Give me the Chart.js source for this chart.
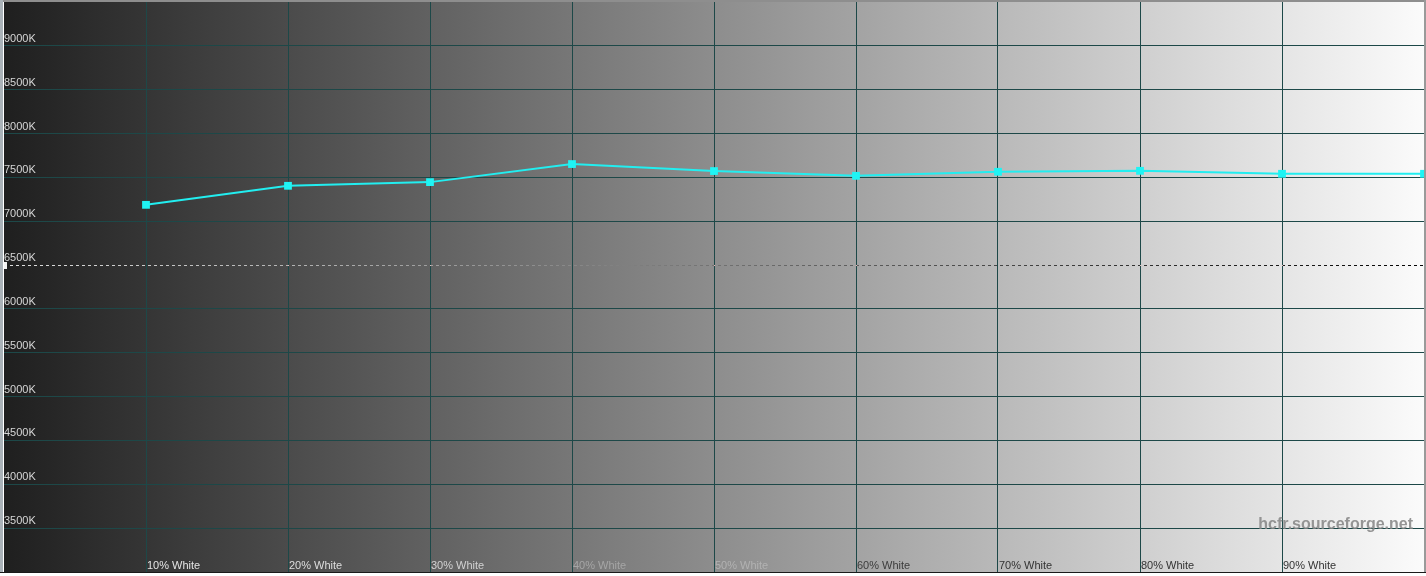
<!DOCTYPE html>
<html>
<head>
<meta charset="utf-8">
<title>Color temperature</title>
<script src="https://cdn.jsdelivr.net/npm/chart.js@4"></script>
<style>
  html, body { margin: 0; padding: 0; background: #ffffff; overflow: hidden; }
  #wrap { width: 1426px; height: 576px; position: relative; }
</style>
</head>
<body>
<div id="wrap"><canvas id="tempChart" width="1426" height="576"></canvas></div>
<script>
// grey levels (% white) and measured colour temperature (K)
const levels = [10, 20, 30, 40, 50, 60, 70, 80, 90, 100];
const tempValues = [7187, 7404, 7446, 7652, 7572, 7518, 7564, 7575, 7541, 7541];
const xTickLabels = ['10% White', '20% White', '30% White', '40% White', '50% White',
                     '60% White', '70% White', '80% White', '90% White'];
const referenceTemp = 6500;
const yMin = 3000, yMax = 9500, yStep = 500;

const xLabelColors = ['#e4e4e4', '#dedede', '#d2d2d2', '#a6a6a6', '#b2b2b2',
                      '#3c3c3c', '#333333', '#333333', '#333333'];
const gridColor = '#1d4848';

function noPadding(scale) {
  scale.paddingTop = 0;
  scale.paddingBottom = 0;
  scale.paddingLeft = 0;
  scale.paddingRight = 0;
}

const backgroundPlugin = {
  id: 'background',
  beforeDraw: function(chart) {
    const c = chart.ctx;
    const area = chart.chartArea;
    c.save();
    c.fillStyle = '#ffffff';
    c.fillRect(0, 0, chart.width, chart.height);
    c.fillStyle = '#8e8e8e';
    c.fillRect(0, 0, chart.width, 2);
    c.fillStyle = '#aab2b8';
    c.fillRect(0, 0, 3, area.bottom);
    c.fillStyle = '#9a9a9a';
    c.fillRect(area.right, 0, chart.width - area.right, area.bottom);
    let grad = c.createLinearGradient(area.left, 0, area.right, 0);
    grad.addColorStop(0, '#1f1f1f');
    grad.addColorStop(1, '#fbfbfb');
    c.fillStyle = grad;
    c.fillRect(area.left, area.top, area.right - area.left, area.bottom - area.top);
    c.fillStyle = '#1a1a1a';
    c.fillRect(0, area.bottom, chart.width, 1);
    c.restore();
  },
  beforeDatasetsDraw: function(chart) {
    const c = chart.ctx;
    const area = chart.chartArea;
    const y = Math.round(chart.scales.y.getPixelForValue(referenceTemp)) + 0.5;
    c.save();
    c.globalCompositeOperation = 'difference';
    c.strokeStyle = '#ffffff';
    c.lineWidth = 1;
    c.setLineDash([3, 3]);
    c.beginPath();
    c.moveTo(area.left, y);
    c.lineTo(area.right, y);
    c.stroke();
    c.restore();
    c.save();
    c.fillStyle = '#f4f4f4';
    c.fillRect(area.left, y - 3.5, 3, 7);
    c.restore();
  },
  afterDraw: function(chart) {
    const c = chart.ctx;
    const area = chart.chartArea;
    const xs = chart.scales.x;
    c.save();
    c.font = '11px "Liberation Sans", Arial, sans-serif';
    c.textAlign = 'left';
    c.textBaseline = 'alphabetic';
    for (let i = 0; i < xTickLabels.length; i++) {
      let px = xs.getPixelForValue(levels[i]);
      c.fillStyle = xLabelColors[i];
      c.fillText(xTickLabels[i], px + 1, area.bottom - 3);
    }
    c.font = 'bold 16px "Liberation Sans", Arial, sans-serif';
    c.textAlign = 'right';
    c.fillStyle = 'rgba(135, 135, 135, 0.88)';
    c.fillText('hcfr.sourceforge.net', area.right - 11, 529);
    c.restore();
  }
};

const ctx = document.getElementById('tempChart').getContext('2d');
const tempChart = new Chart(ctx, {
  type: 'line',
  data: {
    datasets: [{
      label: 'Color temperature',
      data: levels.map(function(l, i) { return { x: l, y: tempValues[i] }; }),
      borderColor: '#22eef0',
      borderWidth: 2,
      backgroundColor: '#1ff4f4',
      pointStyle: 'rect',
      pointRadius: 5.5,
      pointBorderWidth: 0,
      tension: 0,
      fill: false
    }]
  },
  options: {
    responsive: false,
    animation: false,
    devicePixelRatio: 1,
    layout: { autoPadding: false, padding: { left: 4, right: 2, top: 2, bottom: 4 } },
    plugins: {
      legend: { display: false },
      tooltip: { enabled: false }
    },
    scales: {
      x: {
        type: 'linear',
        min: 0,
        max: 100,
        afterFit: noPadding,
        border: { display: false },
        grid: {
          drawTicks: false,
          lineWidth: 1,
          color: function(c) {
            return (c.tick && (c.tick.value === 0 || c.tick.value === 100)) ? 'rgba(0,0,0,0)' : gridColor;
          }
        },
        ticks: { display: false, stepSize: 10 }
      },
      y: {
        type: 'linear',
        min: yMin,
        max: yMax,
        afterFit: noPadding,
        border: { display: false },
        grid: {
          drawTicks: false,
          lineWidth: 1,
          color: function(c) {
            let v = c.tick ? c.tick.value : null;
            return (v === yMin || v === yMax || v === referenceTemp) ? 'rgba(0,0,0,0)' : gridColor;
          }
        },
        ticks: {
          stepSize: yStep,
          mirror: true,
          padding: 0,
          labelOffset: -7,
          color: '#d6d6d6',
          font: { family: '"Liberation Sans", Arial, sans-serif', size: 11 },
          callback: function(v) {
            return (v === yMin || v === yMax) ? '' : v + 'K';
          }
        }
      }
    }
  },
  plugins: [backgroundPlugin]
});
</script>
</body>
</html>
